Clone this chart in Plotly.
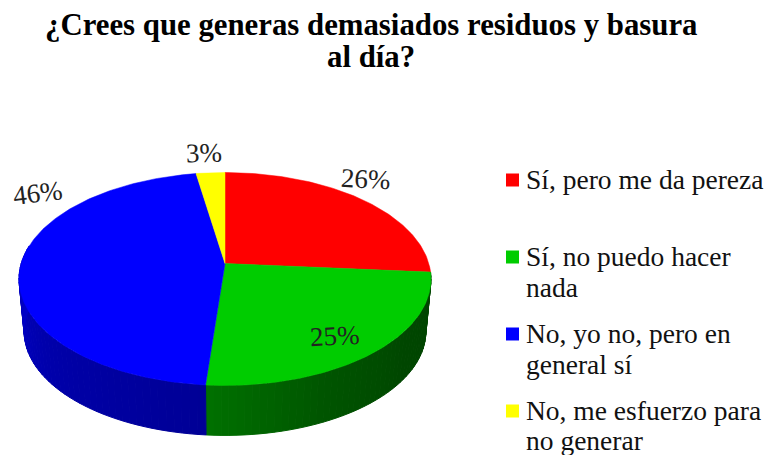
import numpy as np
import plotly.graph_objects as go

TITLE_LINES = ["¿Crees que generas demasiados residuos y basura", "al día?"]
title_y = [25, 57]
categories = [["Sí, pero me da pereza"], ["Sí, no puedo hacer", "nada"], ["No, yo no, pero en", "general sí"], ["No, me esfuerzo para", "no generar"]]
values = [26.3, 25.0, 46.1, 2.6]
colors = ["#ff0000", "#00cc00", "#0000ff", "#ffff00"]
side_stops = {1: [(0, 112, 0), (0, 84, 0), (0, 70, 0), (0, 68, 0)], 2: [(0, 0, 205), (0, 0, 170), (0, 0, 150)]}

# percent label placement (pixel axes) and tilt
label_pos = [(366, 179, 3), (335, 336, -3), (38, 193, -7), (204, 153, -2)]
legend_y = [180, 257, 334, 411]
legend_line_gap = 31
LAST_LINE_Y = 440

CX, CY = 225, 263.5
A, B, K = 203.8, 104.2, 0.1455
DEPTH, SCALE = 53, 0.975
FONT = "Liberation Serif"


def project(theta_deg, bottom=False):
    t = np.radians(np.asarray(theta_deg, dtype=float))
    u, v = np.sin(t), -np.cos(t)
    w = 1 - K * v
    x, y = A * u / w, B * v / w
    if bottom:
        return CX + SCALE * x, CY + DEPTH + SCALE * y
    return CX + x, CY + y


def mix(stops, f):
    f = min(max(f, 0), 1) * (len(stops) - 1)
    i = min(int(f), len(stops) - 2)
    g = f - i
    c = [round(stops[i][k] * (1 - g) + stops[i + 1][k] * g) for k in range(3)]
    return f"rgb({c[0]},{c[1]},{c[2]})"


edges = np.cumsum([0] + values) * 3.6
fig = go.Figure()

# side wall: drawn as thin bands under the top face
SIDE_START, SIDE_END = 80.0, 280.0
for idx in (1, 2):
    lo, hi = max(edges[idx], SIDE_START), min(edges[idx + 1], SIDE_END)
    n = 48
    grid = np.linspace(lo, hi, n + 1)
    for j in range(n):
        arc = np.linspace(grid[j], grid[j + 1], 4)
        xt, yt = project(arc)
        xb, yb = project(arc[::-1], bottom=True)
        f = j / (n - 1)
        col = mix(side_stops[idx], 1 - f if idx == 1 else 1 - f)
        fig.add_trace(go.Scatter(
            x=np.r_[xt, xb, xt[0]], y=np.r_[yt, yb, yt[0]], mode="lines", fill="toself",
            fillcolor=col, line=dict(color=col, width=1), hoverinfo="skip", showlegend=False))

# top face slices
for i, (val, col) in enumerate(zip(values, colors)):
    arc = np.linspace(edges[i], edges[i + 1], max(int(val * 4), 8))
    xa, ya = project(arc)
    fig.add_trace(go.Scatter(
        x=np.r_[CX, xa, CX], y=np.r_[CY, ya, CY], mode="lines", fill="toself",
        fillcolor=col, line=dict(color=col, width=0.5), hoverinfo="text",
        text=f"{round(val)}%", showlegend=False))

# legend swatches
fig.add_trace(go.Scatter(
    x=[512.5] * 4, y=legend_y, mode="markers",
    marker=dict(symbol="square", size=13, color=colors, line=dict(width=0)),
    hoverinfo="skip", showlegend=False))

annotations = []
for val, (lx, ly, ang) in zip(values, label_pos):
    annotations.append(dict(x=lx, y=ly, text=f"{round(val)}%", showarrow=False, textangle=ang,
                            font=dict(family=FONT, size=27, color="#222222"),
                            xanchor="center", yanchor="middle"))
for lines, ty in zip(categories, legend_y):
    for k, line in enumerate(lines):
        annotations.append(dict(x=523.5, y=min(ty + k * legend_line_gap - 1, LAST_LINE_Y), text=line,
                                showarrow=False, align="left",
                                font=dict(family=FONT, size=27.5, color="#111111"),
                                xanchor="left", yanchor="middle"))
for line, ty in zip(TITLE_LINES, title_y):
    annotations.append(dict(x=371, y=ty, text=line, showarrow=False,
                            font=dict(family=FONT, size=30.8, color="black", weight="bold"),
                            xanchor="center", yanchor="middle"))

fig.update_layout(
    width=767, height=455, margin=dict(l=0, r=0, t=0, b=0),
    paper_bgcolor="white", plot_bgcolor="white", showlegend=False,
    xaxis=dict(range=[0, 767], visible=False, fixedrange=True),
    yaxis=dict(range=[455, 0], visible=False, fixedrange=True),
    annotations=annotations,
)
fig.write_html("out.html", config={"displayModeBar": False},
               post_script="document.body.style.margin='0';document.documentElement.style.overflow='hidden';")
